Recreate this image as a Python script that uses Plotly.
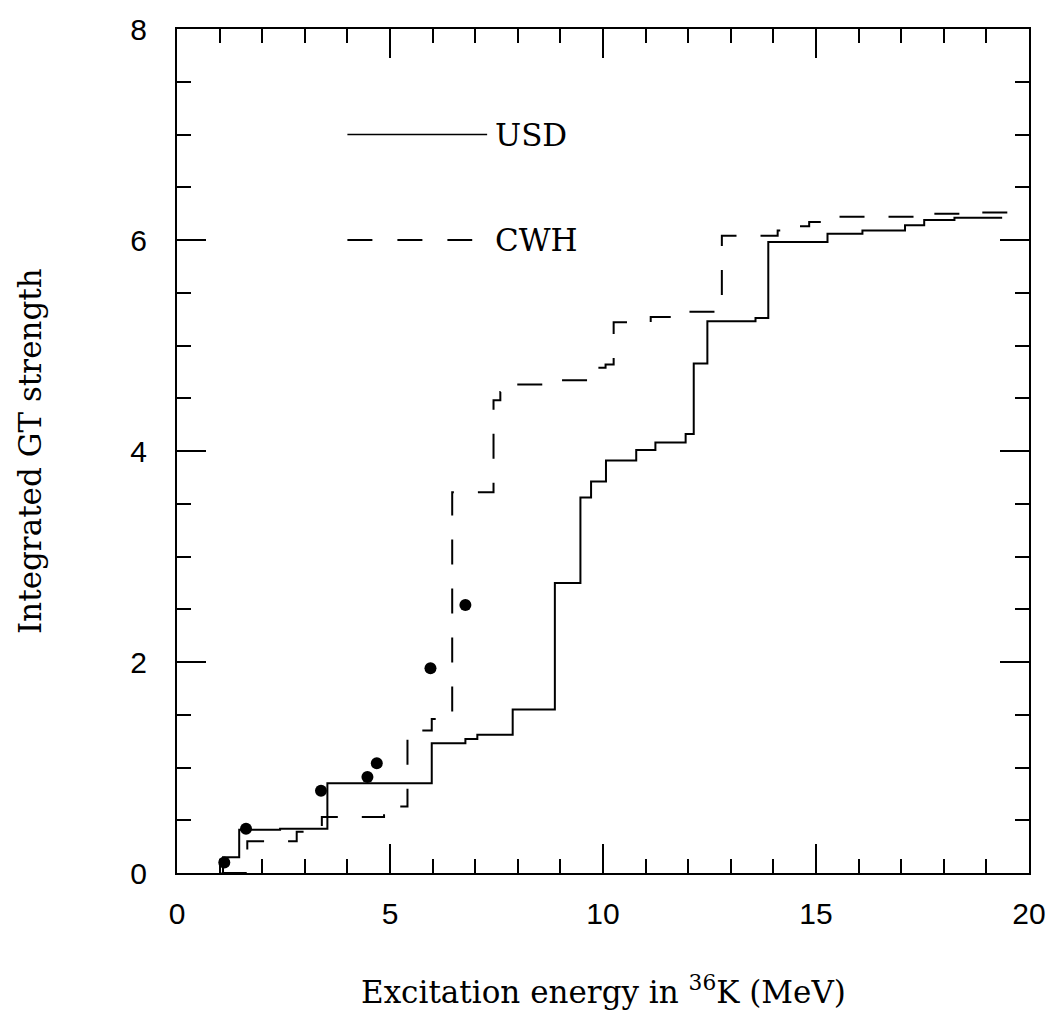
import plotly.graph_objects as go

# USD shell-model cumulative GT strength (step function)
x_usd = [1.05, 1.08, 1.46, 2.42, 3.53, 5.98, 6.77, 7.05, 7.88, 8.87, 9.47, 9.72, 10.07,
         10.78, 11.23, 11.94, 12.13, 12.45, 13.58, 13.88, 15.27, 16.09, 17.09, 17.54,
         18.25, 19.37]
y_usd = [0.0, 0.15, 0.41, 0.42, 0.85, 1.23, 1.27, 1.31, 1.55, 2.75, 3.56, 3.71, 3.91,
         4.01, 4.08, 4.16, 4.83, 5.23, 5.26, 5.98, 6.06, 6.09, 6.14, 6.19,
         6.21, 6.21]

# CWH shell-model cumulative GT strength (step function)
x_cwh = [1.05, 1.65, 2.81, 3.40, 4.86, 5.05, 5.41, 5.98, 6.46, 7.43, 7.59, 7.70, 8.80,
         9.75, 10.06, 10.25, 11.12, 11.80, 12.79, 14.10, 14.40, 14.84, 15.39, 17.60,
         18.75, 19.62]
y_cwh = [0.0, 0.30, 0.39, 0.53, 0.56, 0.63, 1.35, 1.46, 3.61, 4.48, 4.56, 4.63, 4.67,
         4.79, 4.82, 5.22, 5.27, 5.32, 6.04, 6.09, 6.13, 6.17, 6.22, 6.25,
         6.26, 6.26]

# Experimental points
x_exp = [1.11, 1.62, 3.38, 4.47, 4.69, 5.95, 6.77]
y_exp = [0.10, 0.42, 0.78, 0.91, 1.04, 1.94, 2.54]

legend_labels = ["USD", "CWH"]
x_title = "Excitation energy in <sup>36</sup>K (MeV)"
y_title = "Integrated GT strength"

TXT_FONT = "DejaVu Serif"
TICK_FONT = "Liberation Sans"

fig = go.Figure()
fig.add_trace(go.Scatter(x=x_usd, y=y_usd, mode="lines", line_shape="hv",
                         line=dict(color="black", width=2), name="USD"))
fig.add_trace(go.Scatter(x=x_cwh, y=y_cwh, mode="lines", line_shape="hv",
                         line=dict(color="black", width=2, dash="25px,24px"), name="CWH"))
fig.add_trace(go.Scatter(x=x_exp, y=y_exp, mode="markers",
                         marker=dict(color="black", size=12), name="exp"))

# in-plot legend
fig.add_shape(type="line", x0=4.0, x1=7.28, y0=7, y1=7, line=dict(color="black", width=1.5))
fig.add_shape(type="line", x0=4.0, x1=6.93, y0=6, y1=6,
              line=dict(color="black", width=2, dash="25px,25px"))
for lbl, yy in zip(legend_labels, [7, 6]):
    fig.add_annotation(x=7.42, y=yy, text=lbl, showarrow=False, xanchor="left",
                       yanchor="middle", font=dict(family=TXT_FONT, size=31, color="black"))

axis_common = dict(showline=True, linewidth=2, linecolor="black", mirror="allticks",
                   ticks="inside", ticklen=29, tickwidth=2, tickcolor="black",
                   showgrid=False, zeroline=False,
                   tickfont=dict(family=TICK_FONT, size=30, color="black"))

fig.update_xaxes(range=[0, 20], tickvals=[0, 5, 10, 15, 20],
                 minor=dict(dtick=1, ticks="inside", ticklen=14, tickwidth=2, tickcolor="black"),
                 ticklabelstandoff=13, **axis_common)
fig.update_yaxes(range=[0, 8], tickvals=[0, 2, 4, 6, 8],
                 minor=dict(dtick=0.5, ticks="inside", ticklen=14, tickwidth=2, tickcolor="black"),
                 ticklabelstandoff=22, **axis_common)

fig.add_annotation(xref="paper", yref="paper", x=0.5, y=0, yanchor="middle", yshift=-117,
                   text=x_title, showarrow=False,
                   font=dict(family=TXT_FONT, size=31, color="black"))
fig.add_annotation(xref="paper", yref="paper", x=0, y=0.5, xanchor="center", xshift=-147,
                   text=y_title, showarrow=False, textangle=-90,
                   font=dict(family=TXT_FONT, size=31, color="black"))

fig.update_layout(width=1058, height=1021, plot_bgcolor="white", paper_bgcolor="white",
                  margin=dict(l=177, r=29, t=19, b=148), showlegend=False)

fig.write_html("out.html")
